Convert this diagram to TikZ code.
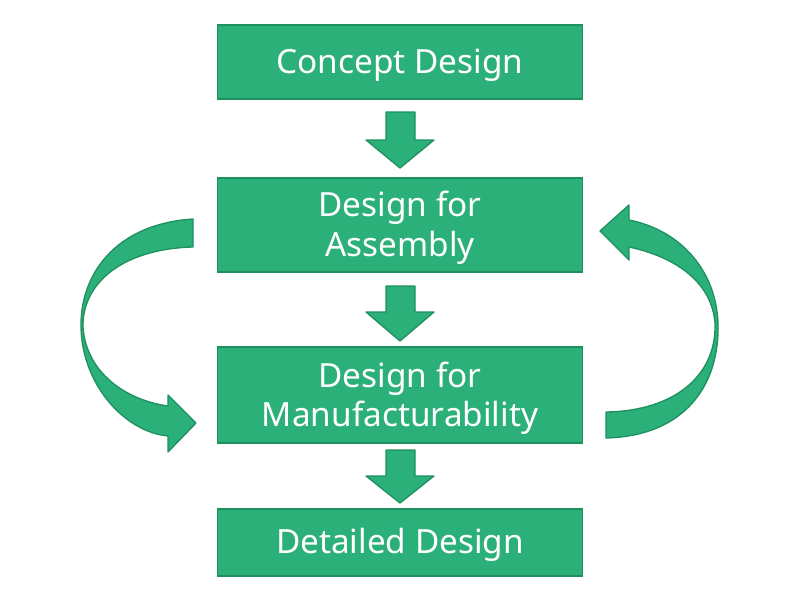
\documentclass[tikz,border=0pt]{standalone}
\usepackage{fontspec}
\setmainfont{Noto Sans}
\begin{document}
\begin{tikzpicture}[x=0.75pt,y=-0.75pt]
\definecolor{gfill}{RGB}{44,176,122}
\definecolor{gline}{RGB}{30,145,95}
\tikzset{
  stage/.style={draw=gline,line width=1.3pt,fill=gfill,minimum width=365*0.75pt,inner sep=0pt},
  stagetext/.style={text=white,align=center,font=\fontsize{25}{29.5}\selectfont,inner sep=0pt},
  blockarrow/.style={fill=gfill,draw=gline,line width=1pt,line join=round}
}
\useasboundingbox (0,0) rectangle (800,600);
\node[stage,minimum height=74*0.75pt] (c) at (400,62) {};
\node[stage,minimum height=94*0.75pt] (a) at (400,225) {};
\node[stage,minimum height=96*0.75pt] (m) at (400,395) {};
\node[stage,minimum height=67*0.75pt] (d) at (400,542.5) {};
\node[stagetext] (ct) at ([yshift=-2.5pt]c.center) {Concept Design};
\node[stagetext] (at) at ([yshift=-2pt]a.center) {Design for\\Assembly};
\node[stagetext] (mt) at ([yshift=-2.5pt]m.center) {Design for\\Manufacturability};
\node[stagetext] (dt) at ([yshift=-2pt]d.center) {Detailed Design};
% straight block arrows
\foreach \t/\h/\b in {112/140/168, 286/312/341, 450/476/503}{
  \draw[blockarrow] (386,\t) -- (415,\t) -- (415,\h) -- (434,\h) -- (400,\b) -- (366,\h) -- (386,\h) -- cycle;
}
% left curved arrow
\draw[blockarrow] (193,219) .. controls (115,224) and (80,275) .. (81,327)
  .. controls (82,385) and (125,432) .. (168,436) -- (168,452) -- (196,423) -- (168,395) -- (168,406)
  .. controls (125,400) and (86,372) .. (83,327)
  .. controls (82,285) and (120,249) .. (193,247) -- cycle;
% right curved arrow
\draw[blockarrow] (606,438) .. controls (685,436) and (720,385) .. (718,323)
  .. controls (716,270) and (680,230) .. (629,220) -- (629,205) -- (600,231) -- (629,260) -- (629,247)
  .. controls (680,258) and (712,285) .. (715,323)
  .. controls (717,375) and (675,411) .. (606,412) -- cycle;
\end{tikzpicture}
\end{document}
